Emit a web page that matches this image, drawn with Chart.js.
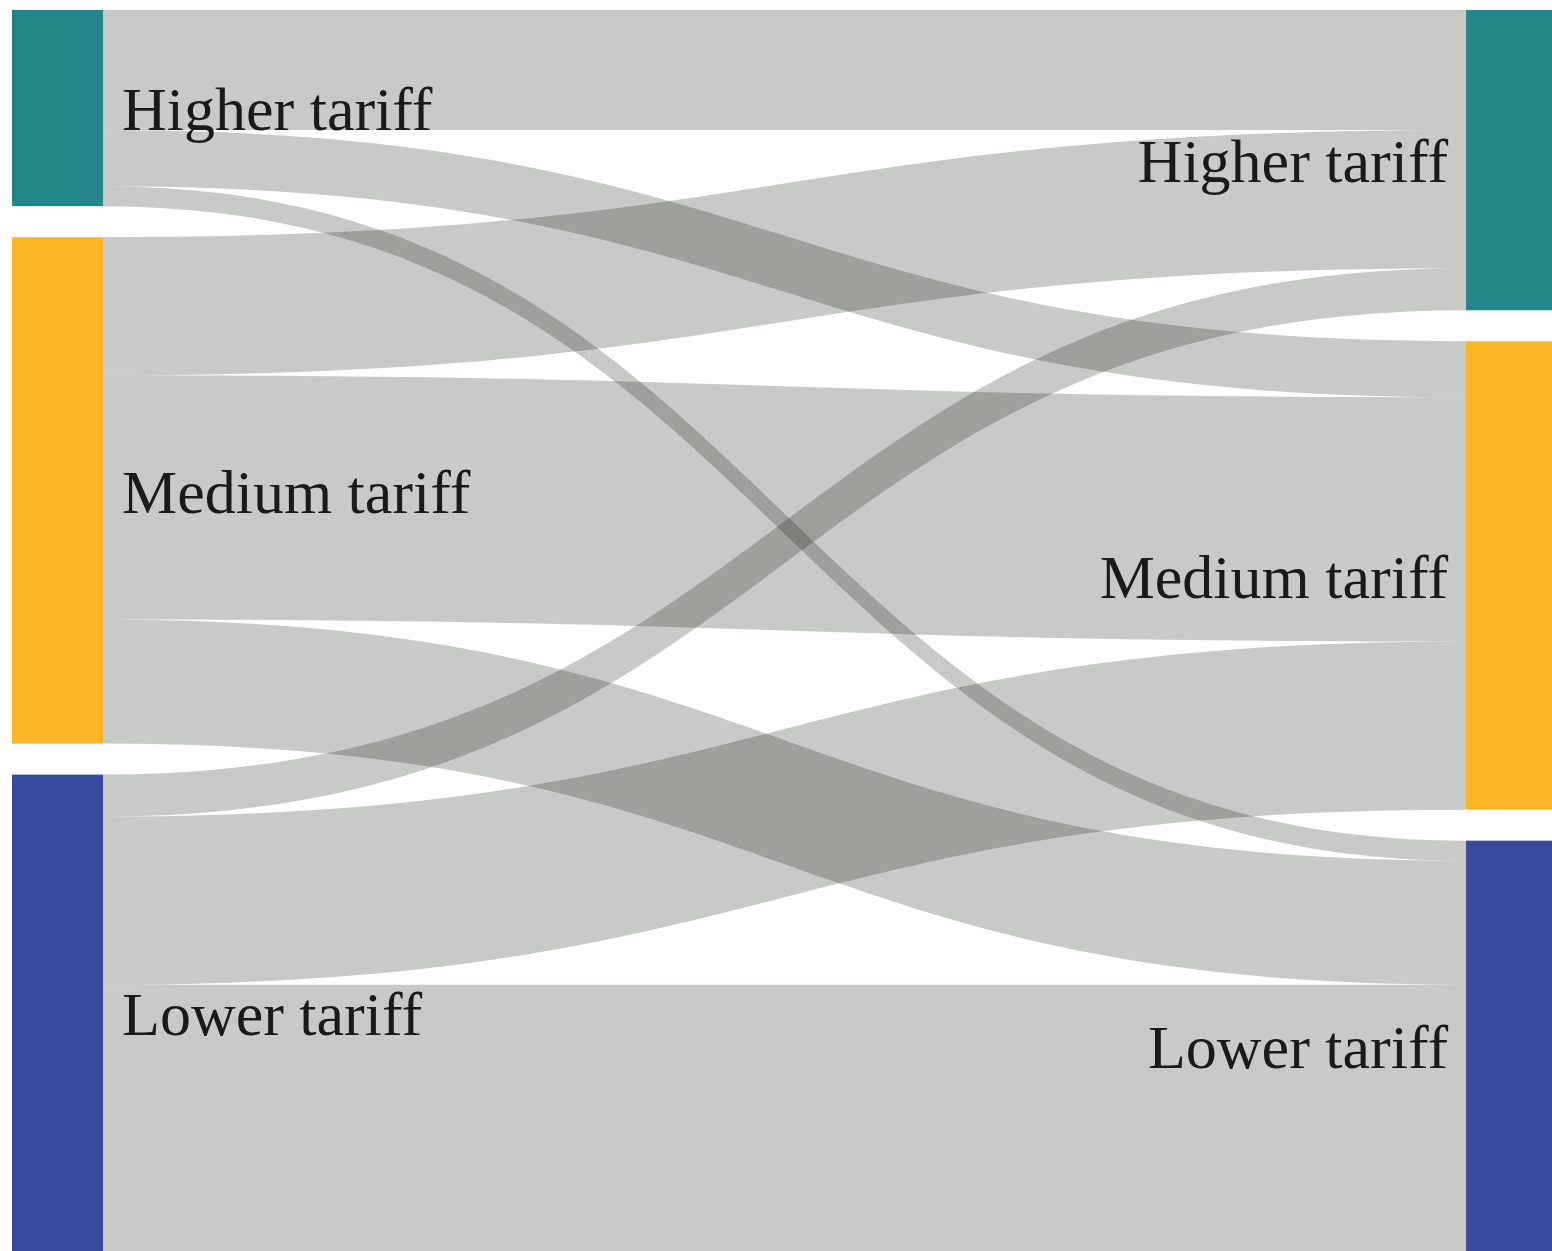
<!DOCTYPE html>
<html>
<head>
<meta charset="utf-8">
<script src="https://cdn.jsdelivr.net/npm/chart.js@4.4.1/dist/chart.umd.min.js"></script>
<style>
  html, body { margin: 0; padding: 0; background: #fff; }
  #wrap { width: 1552px; height: 1251px; }
</style>
</head>
<body>
<div id="wrap"><canvas id="sankeyChart"></canvas></div>
<script>
// tariff classes (same on both sides)
const nodeNames = ["Higher tariff", "Medium tariff", "Lower tariff"];
const nodeColors = ["#23868a", "#fbb526", "#384a9c"];

// flows: left class -> right class
const flowFrom = [0, 0, 0, 1, 1, 1, 2, 2, 2];
const flowTo = [0, 1, 2, 0, 1, 2, 0, 1, 2];
const flowValues = [120, 56, 20, 138, 244, 124, 42, 168, 266];

// layout
const nodePad = 31;
const leftX = 0;
const rightX = 0.9442;
const nodeW = 0.0591;
const linkColor = "rgb(200,202,199)";
const labelFont = "62px 'Liberation Serif', 'Times New Roman', serif";

const leftTotals = nodeNames.map((_, i) =>
  flowValues.reduce((s, v, k) => s + (flowFrom[k] === i ? v : 0), 0));
const rightTotals = nodeNames.map((_, j) =>
  flowValues.reduce((s, v, k) => s + (flowTo[k] === j ? v : 0), 0));

function stack(totals) {
  let y = 0;
  return totals.map(t => {
    const n = { y0: y, y1: y + t };
    y += t + nodePad;
    return n;
  });
}
const leftNodes = stack(leftTotals);
const rightNodes = stack(rightTotals);
const yMax = Math.max(
  leftTotals.reduce((a, b) => a + b, 0),
  rightTotals.reduce((a, b) => a + b, 0)
) + nodePad * (nodeNames.length - 1);

// link offsets inside nodes
const srcOff = leftNodes.map(n => n.y0);
const tgtOff = rightNodes.map(n => n.y0);
const links = [];
flowValues.forEach((v, k) => links.push({ k, v }));
// order at source by target, at target by source
links.sort((a, b) => flowFrom[a.k] - flowFrom[b.k] || flowTo[a.k] - flowTo[b.k]);
links.forEach(l => {
  l.sy0 = srcOff[flowFrom[l.k]];
  l.sy1 = l.sy0 + l.v;
  srcOff[flowFrom[l.k]] = l.sy1;
});
links.sort((a, b) => flowTo[a.k] - flowTo[b.k] || flowFrom[a.k] - flowFrom[b.k]);
links.forEach(l => {
  l.ty0 = tgtOff[flowTo[l.k]];
  l.ty1 = l.ty0 + l.v;
  tgtOff[flowTo[l.k]] = l.ty1;
});

const sankeyPlugin = {
  id: "sankeyFlows",
  beforeDraw(chart) {
    const c = chart.ctx;
    c.save();
    c.fillStyle = "#ffffff";
    c.fillRect(0, 0, chart.width, chart.height);
    c.restore();
  },
  afterDatasetsDraw(chart) {
    const c = chart.ctx;
    const xs = chart.scales.x;
    const ys = chart.scales.y;
    const x0 = xs.getPixelForValue(leftX + nodeW);
    const x1 = xs.getPixelForValue(rightX);
    const xm = (x0 + x1) / 2;

    // links, multiplied so crossings get darker
    c.save();
    c.globalCompositeOperation = "multiply";
    c.fillStyle = linkColor;
    links.forEach(l => {
      const a0 = ys.getPixelForValue(l.sy0), a1 = ys.getPixelForValue(l.sy1);
      const b0 = ys.getPixelForValue(l.ty0), b1 = ys.getPixelForValue(l.ty1);
      c.beginPath();
      c.moveTo(x0, a0);
      c.bezierCurveTo(xm, a0, xm, b0, x1, b0);
      c.lineTo(x1, b1);
      c.bezierCurveTo(xm, b1, xm, a1, x0, a1);
      c.closePath();
      c.fill();
    });
    c.restore();

    c.save();
    const drawNodes = (nodes, xv, side) => {
      nodes.forEach((n, i) => {
        const px0 = xs.getPixelForValue(xv);
        const px1 = xs.getPixelForValue(xv + nodeW);
        const py0 = ys.getPixelForValue(n.y0);
        const py1 = ys.getPixelForValue(n.y1);
        c.fillStyle = nodeColors[i];
        c.fillRect(px0, py0, px1 - px0, py1 - py0);

        c.font = labelFont;
        c.fillStyle = "#1a1a1a";
        c.textBaseline = "alphabetic";
        const base = (py0 + py1) / 2 + 62 * 0.36;
        if (side === "left") {
          c.textAlign = "left";
          c.fillText(nodeNames[i], px1 + 19, base);
        } else {
          c.textAlign = "right";
          c.fillText(nodeNames[i], px0 - 18, base);
        }
      });
    };
    drawNodes(leftNodes, leftX, "left");
    drawNodes(rightNodes, rightX, "right");
    c.restore();
  }
};

const ctx = document.getElementById("sankeyChart").getContext("2d");
const chart = new Chart(ctx, {
  type: "scatter",
  data: { datasets: [{ data: [] }] },
  options: {
    responsive: true,
    maintainAspectRatio: false,
    animation: false,
    layout: { padding: { top: 10, left: 12, right: 0, bottom: 0 } },
    plugins: { legend: { display: false }, tooltip: { enabled: false } },
    scales: {
      x: { type: "linear", min: 0, max: 1, display: false },
      y: { type: "linear", min: 0, max: yMax, reverse: true, display: false }
    }
  },
  plugins: [sankeyPlugin]
});
</script>
</body>
</html>
